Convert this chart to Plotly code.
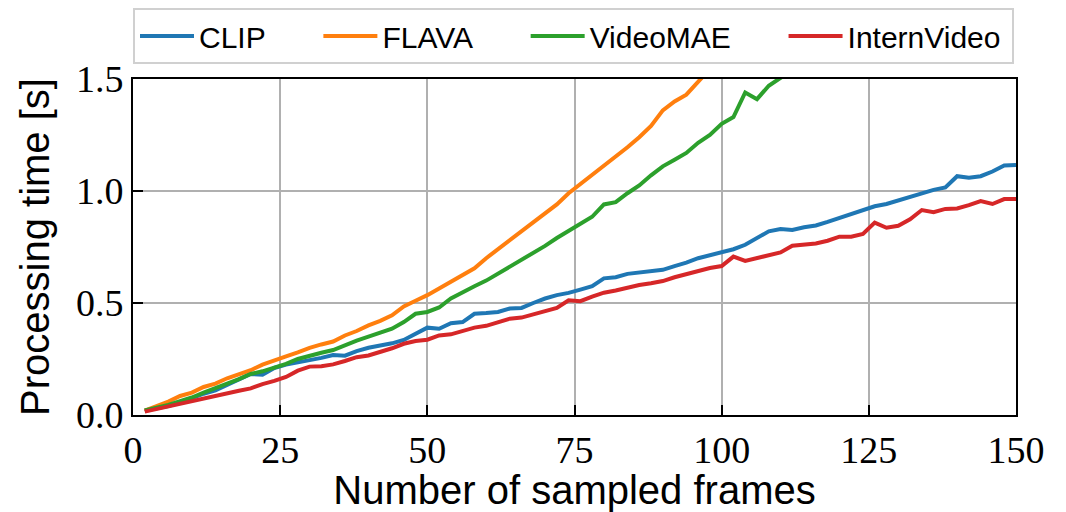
import plotly.graph_objects as go

frames = list(range(2, 151, 2))

clip = [0.02, 0.03, 0.04, 0.055, 0.075, 0.095, 0.11, 0.135, 0.16, 0.183,
        0.18, 0.21, 0.225, 0.235, 0.242, 0.255, 0.268, 0.265, 0.285, 0.30,
        0.31, 0.32, 0.335, 0.365, 0.39, 0.385, 0.41, 0.415, 0.452, 0.455,
        0.46, 0.475, 0.478, 0.50, 0.52, 0.535, 0.545, 0.56, 0.575, 0.61,
        0.615, 0.63, 0.635, 0.64, 0.648, 0.665, 0.68, 0.70, 0.713, 0.725,
        0.74, 0.76, 0.79, 0.82, 0.83, 0.826, 0.838, 0.846, 0.862, 0.88,
        0.898, 0.915, 0.932, 0.942, 0.958, 0.975, 0.99, 1.005, 1.016, 1.066,
        1.059, 1.066, 1.087, 1.114, 1.116]

internvideo = [0.015, 0.027, 0.04, 0.052, 0.062, 0.074, 0.086, 0.097, 0.108, 0.119,
               0.138, 0.152, 0.17, 0.198, 0.216, 0.218, 0.226, 0.241, 0.258, 0.266,
               0.28, 0.298, 0.318, 0.33, 0.336, 0.355, 0.36, 0.375, 0.39, 0.398,
               0.415, 0.43, 0.435, 0.45, 0.462, 0.478, 0.512, 0.508, 0.528, 0.546,
               0.556, 0.57, 0.58, 0.588, 0.598, 0.615, 0.63, 0.642, 0.656, 0.665,
               0.707, 0.688, 0.70, 0.714, 0.726, 0.756, 0.759, 0.766, 0.778, 0.796,
               0.796, 0.808, 0.859, 0.836, 0.845, 0.874, 0.915, 0.905, 0.92, 0.922,
               0.937, 0.955, 0.942, 0.964, 0.964]

flava_frames = list(range(2, 99, 2))
flava = [0.02, 0.04, 0.06, 0.085, 0.10, 0.125, 0.14, 0.164, 0.18, 0.20,
         0.225, 0.245, 0.262, 0.28, 0.30, 0.315, 0.328, 0.355, 0.375, 0.40,
         0.42, 0.445, 0.485, 0.51, 0.535, 0.565, 0.595, 0.625, 0.655, 0.70,
         0.74, 0.775, 0.815, 0.855, 0.90, 0.94, 0.99, 1.03, 1.075, 1.11,
         1.15, 1.195, 1.24, 1.29, 1.36, 1.40, 1.43, 1.49, 1.545]

videomae_frames = list(range(2, 113, 2))
videomae = [0.02, 0.032, 0.045, 0.062, 0.078, 0.10, 0.118, 0.14, 0.16, 0.183,
            0.195, 0.21, 0.228, 0.25, 0.265, 0.278, 0.29, 0.312, 0.332, 0.35,
            0.368, 0.385, 0.415, 0.452, 0.46, 0.48, 0.52, 0.55, 0.575, 0.60,
            0.63, 0.665, 0.69, 0.72, 0.755, 0.79, 0.82, 0.855, 0.885, 0.94,
            0.95, 0.99, 1.025, 1.07, 1.11, 1.14, 1.17, 1.215, 1.25, 1.30,
            1.33, 1.44, 1.41, 1.47, 1.505, 1.54]

x_ticks = [0, 25, 50, 75, 100, 125, 150]
y_ticks = [0.0, 0.5, 1.0, 1.5]

PAD = "\u00a0" * 5 + "\u2009"
series = [
    ("CLIP" + PAD, frames, clip, "#1f77b4"),
    ("FLAVA" + PAD, flava_frames, flava, "#ff7f0e"),
    ("VideoMAE" + PAD, videomae_frames, videomae, "#2ca02c"),
    ("InternVideo" + "\u2009", frames, internvideo, "#d62728"),
]

W, H = 1058, 504
ML, MR, MT, MB = 125, 50, 71, 97

fig = go.Figure()
for name, xs, ys, color in series:
    fig.add_trace(go.Scatter(x=xs, y=ys, mode="lines", name=name,
                             line=dict(color=color, width=4)))

axis_common = dict(
    showline=True, linecolor="black", linewidth=2, mirror=True,
    showgrid=True, gridcolor="#b0b0b0", gridwidth=2,
    ticks="inside", ticklen=10, tickwidth=2, tickcolor="black",
    tickfont=dict(family="Liberation Serif", size=38, color="black"),
    zeroline=False,
)

fig.update_xaxes(range=[0, 150], tickvals=x_ticks,
                 title=dict(text="Number of sampled frames",
                            font=dict(family="Liberation Sans", size=40, color="black"),
                            standoff=10),
                 **axis_common)
fig.update_yaxes(range=[0, 1.5], tickvals=y_ticks, tickformat=".1f",
                 title=dict(text="Processing time [s]",
                            font=dict(family="Liberation Sans", size=40, color="black"),
                            standoff=14),
                 **axis_common)

fig.update_layout(
    width=W, height=H,
    margin=dict(l=ML, r=MR, t=MT, b=MB, autoexpand=False),
    paper_bgcolor="white", plot_bgcolor="white",
    legend=dict(orientation="h", xref="container", yref="container",
                x=ML / W, xanchor="left", y=1.0, yanchor="top",
                bordercolor="#d0d0d0", borderwidth=2,
                font=dict(family="Liberation Sans", size=30, color="black"),
                itemwidth=54),
    showlegend=True,
)

fig.write_html("out.html")
